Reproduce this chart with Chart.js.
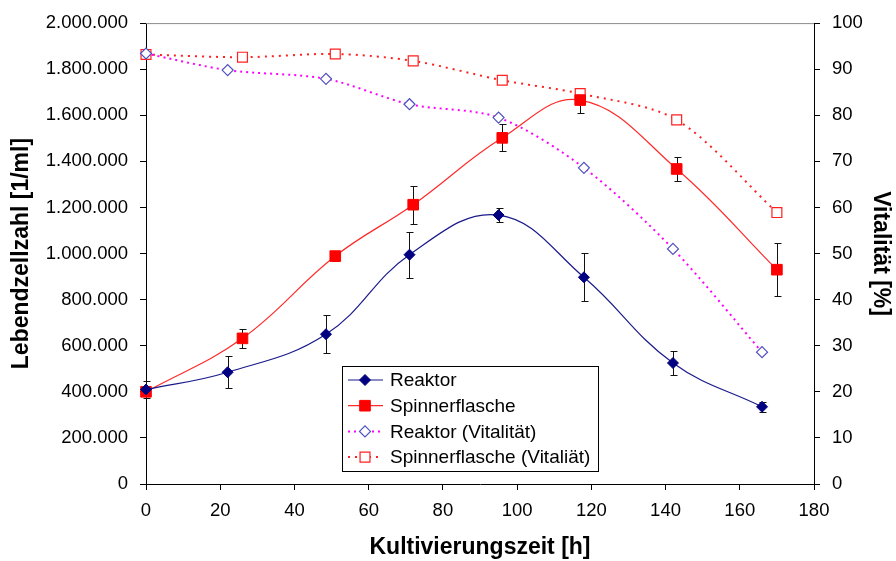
<!DOCTYPE html>
<html>
<head>
<meta charset="utf-8">
<script src="https://cdn.jsdelivr.net/npm/chart.js@4/dist/chart.umd.min.js"></script>
<style>
  html, body { margin: 0; padding: 0; background: #fff; }
  #wrap { width: 896px; height: 561px; }
</style>
</head>
<body>
<div id="wrap"><canvas id="c" width="896" height="561"></canvas></div>
<script>
// Reaktor
const reaktorTime = [0, 22, 48.5, 71, 95, 118, 142, 166];
const reaktorCells = [410000, 485000, 650000, 995000, 1167000, 897000, 525000, 335000];
const reaktorErr = [35000, 69000, 82000, 100000, 30000, 105000, 54000, 21000];
const reaktorVit = [93.4, 89.8, 87.9, 82.4, 79.5, 68.6, 51.0, 28.6];

// Spinnerflasche
const spinnerTime = [0, 26, 51, 72, 96, 117, 143, 170];
const spinnerCells = [400000, 632000, 989000, 1212000, 1502000, 1666000, 1367000, 930000];
const spinnerErr = [15000, 41000, 21000, 83000, 58000, 54000, 51000, 115000];
const spinnerVit = [93.2, 92.6, 93.3, 91.8, 87.6, 84.7, 79.0, 58.9];

const xTicks = [0, 20, 40, 60, 80, 100, 120, 140, 160, 180];
const yTicks = [0, 200000, 400000, 600000, 800000, 1000000, 1200000, 1400000, 1600000, 1800000, 2000000];
const y2Ticks = [0, 10, 20, 30, 40, 50, 60, 70, 80, 90, 100];

const FONT = '"Liberation Sans", Arial, sans-serif';

const pts = (xs, ys) => xs.map((x, i) => ({ x: x, y: ys[i] }));
const fmt = (v) => String(v).replace(/\B(?=(\d{3})+(?!\d))/g, ".");
const setTicks = (arr) => (s) => { s.ticks = arr.map((v) => ({ value: v })); };

// error bars drawn under the lines/markers
const errorBars = {
  id: "errorBars",
  beforeDatasetsDraw(chart) {
    const { ctx } = chart;
    ctx.save();
    ctx.strokeStyle = "#111";
    ctx.lineWidth = 1;
    chart.data.datasets.forEach((ds) => {
      if (!ds.errors) return;
      const xs = chart.scales[ds.xAxisID || "x"];
      const ys = chart.scales[ds.yAxisID];
      ds.data.forEach((p, i) => {
        const e = ds.errors[i];
        const px = Math.round(xs.getPixelForValue(p.x)) + 0.5;
        const t = Math.round(ys.getPixelForValue(p.y + e)) + 0.5;
        const b = Math.round(ys.getPixelForValue(p.y - e)) + 0.5;
        ctx.beginPath();
        ctx.moveTo(px, t); ctx.lineTo(px, b);
        ctx.moveTo(px - 3, t); ctx.lineTo(px + 4, t);
        ctx.moveTo(px - 3, b); ctx.lineTo(px + 4, b);
        ctx.stroke();
      });
    });
    ctx.restore();
  },
};

// top frame line + boxed legend inside the plot
const frameAndLegend = {
  id: "frameAndLegend",
  afterDraw(chart) {
    const { ctx, chartArea: a } = chart;
    ctx.save();
    ctx.strokeStyle = "#8c8c8c";
    ctx.lineWidth = 1;
    ctx.beginPath();
    ctx.moveTo(a.left, a.top + 0.5);
    ctx.lineTo(a.right, a.top + 0.5);
    ctx.stroke();

    const bx = a.left + 196, by = 366, bw = 256, bh = 105;
    ctx.fillStyle = "#fff";
    ctx.fillRect(bx, by, bw, bh);
    ctx.strokeStyle = "#000";
    ctx.strokeRect(bx + 0.5, by + 0.5, bw, bh);

    chart.data.datasets.forEach((ds, i) => {
      const cy = by + 14 + i * 25.7;
      ctx.strokeStyle = ds.borderColor;
      ctx.lineWidth = ds.borderWidth;
      ctx.setLineDash(ds.borderDash || []);
      ctx.beginPath();
      ctx.moveTo(bx + 6, cy);
      ctx.lineTo(bx + 41, cy);
      ctx.stroke();
      ctx.setLineDash([]);
      ctx.fillStyle = ds.pointBackgroundColor;
      ctx.strokeStyle = ds.pointBorderColor;
      ctx.lineWidth = ds.pointBorderWidth;
      Chart.helpers.drawPoint(ctx, { pointStyle: ds.pointStyle, radius: ds.pointRadius, borderWidth: ds.pointBorderWidth, rotation: 0 }, bx + 23, cy);
      ctx.fillStyle = "#000";
      ctx.font = "19px " + FONT;
      ctx.textBaseline = "middle";
      ctx.textAlign = "left";
      ctx.fillText(ds.label, bx + 48, cy + 1);
    });
    ctx.restore();
  },
};

new Chart(document.getElementById("c"), {
  type: "line",
  data: {
    datasets: [
      {
        label: "Reaktor",
        data: pts(reaktorTime, reaktorCells),
        errors: reaktorErr,
        yAxisID: "y",
        borderColor: "#1a1a8c",
        borderWidth: 1.2,
        tension: 0.4,
        pointStyle: "rectRot",
        pointRadius: 5.5,
        pointBackgroundColor: "#000080",
        pointBorderColor: "#000080",
        pointBorderWidth: 1,
      },
      {
        label: "Spinnerflasche",
        data: pts(spinnerTime, spinnerCells),
        errors: spinnerErr,
        yAxisID: "y",
        borderColor: "#ff2a2a",
        borderWidth: 1.2,
        tension: 0.4,
        pointStyle: "rect",
        pointRadius: 7.5,
        pointBackgroundColor: "#ff0000",
        pointBorderColor: "#ff0000",
        pointBorderWidth: 1,
      },
      {
        label: "Reaktor (Vitalität)",
        data: pts(reaktorTime, reaktorVit),
        yAxisID: "y2",
        borderColor: "#ff00ff",
        borderWidth: 2,
        borderDash: [2, 4],
        tension: 0.3,
        pointStyle: "rectRot",
        pointRadius: 5.5,
        pointBackgroundColor: "#ffffff",
        pointBorderColor: "#5050c0",
        pointBorderWidth: 1.2,
      },
      {
        label: "Spinnerflasche (Vitaliät)",
        data: pts(spinnerTime, spinnerVit),
        yAxisID: "y2",
        borderColor: "#ff2020",
        borderWidth: 2,
        borderDash: [2, 5],
        tension: 0.3,
        pointStyle: "rect",
        pointRadius: 7,
        pointBackgroundColor: "#ffffff",
        pointBorderColor: "#ff2020",
        pointBorderWidth: 1.2,
      },
    ],
  },
  options: {
    responsive: false,
    animation: false,
    devicePixelRatio: 1,
    layout: { padding: { top: 23, left: 0, right: 0, bottom: 0 } },
    datasets: { line: { clip: false } },
    plugins: { legend: { display: false }, tooltip: { enabled: false } },
    scales: {
      x: {
        type: "linear",
        position: "bottom",
        min: 0,
        max: 180,
        afterBuildTicks: setTicks(xTicks),
        afterFit: (s) => { s.height = 77; },
        grid: { drawOnChartArea: false, drawTicks: true, tickLength: 6, tickColor: "#000" },
        border: { color: "#000", width: 1 },
        ticks: { color: "#000", font: { family: FONT, size: 18.5 }, padding: 10, maxRotation: 0 },
        title: { display: true, text: "Kultivierungszeit [h]", color: "#000", font: { family: FONT, size: 23, weight: "bold" }, padding: { top: 0, bottom: 0 } },
      },
      y: {
        type: "linear",
        position: "left",
        min: 0,
        max: 2000000,
        afterBuildTicks: setTicks(yTicks),
        afterFit: (s) => { s.width = 146; },
        grid: { drawOnChartArea: false, drawTicks: true, tickLength: 6, tickColor: "#000" },
        border: { color: "#000", width: 1 },
        ticks: { color: "#000", font: { family: FONT, size: 18.5 }, padding: 12, callback: (v) => fmt(v) },
        title: { display: true, text: "Lebendzellzahl [1/ml]", color: "#000", font: { family: FONT, size: 23, weight: "bold" }, padding: { top: 8, bottom: 0 } },
      },
      y2: {
        type: "linear",
        position: "right",
        min: 0,
        max: 100,
        afterBuildTicks: setTicks(y2Ticks),
        afterFit: (s) => { s.width = 82; },
        grid: { drawOnChartArea: false, drawTicks: true, tickLength: 6, tickColor: "#000" },
        border: { color: "#000", width: 1 },
        ticks: { color: "#000", font: { family: FONT, size: 18.5 }, padding: 12 },
        title: { display: true, text: "Vitalität [%]", color: "#000", font: { family: FONT, size: 23, weight: "bold" }, padding: { top: 2, bottom: 0 } },
      },
    },
  },
  plugins: [errorBars, frameAndLegend],
});
</script>
</body>
</html>
